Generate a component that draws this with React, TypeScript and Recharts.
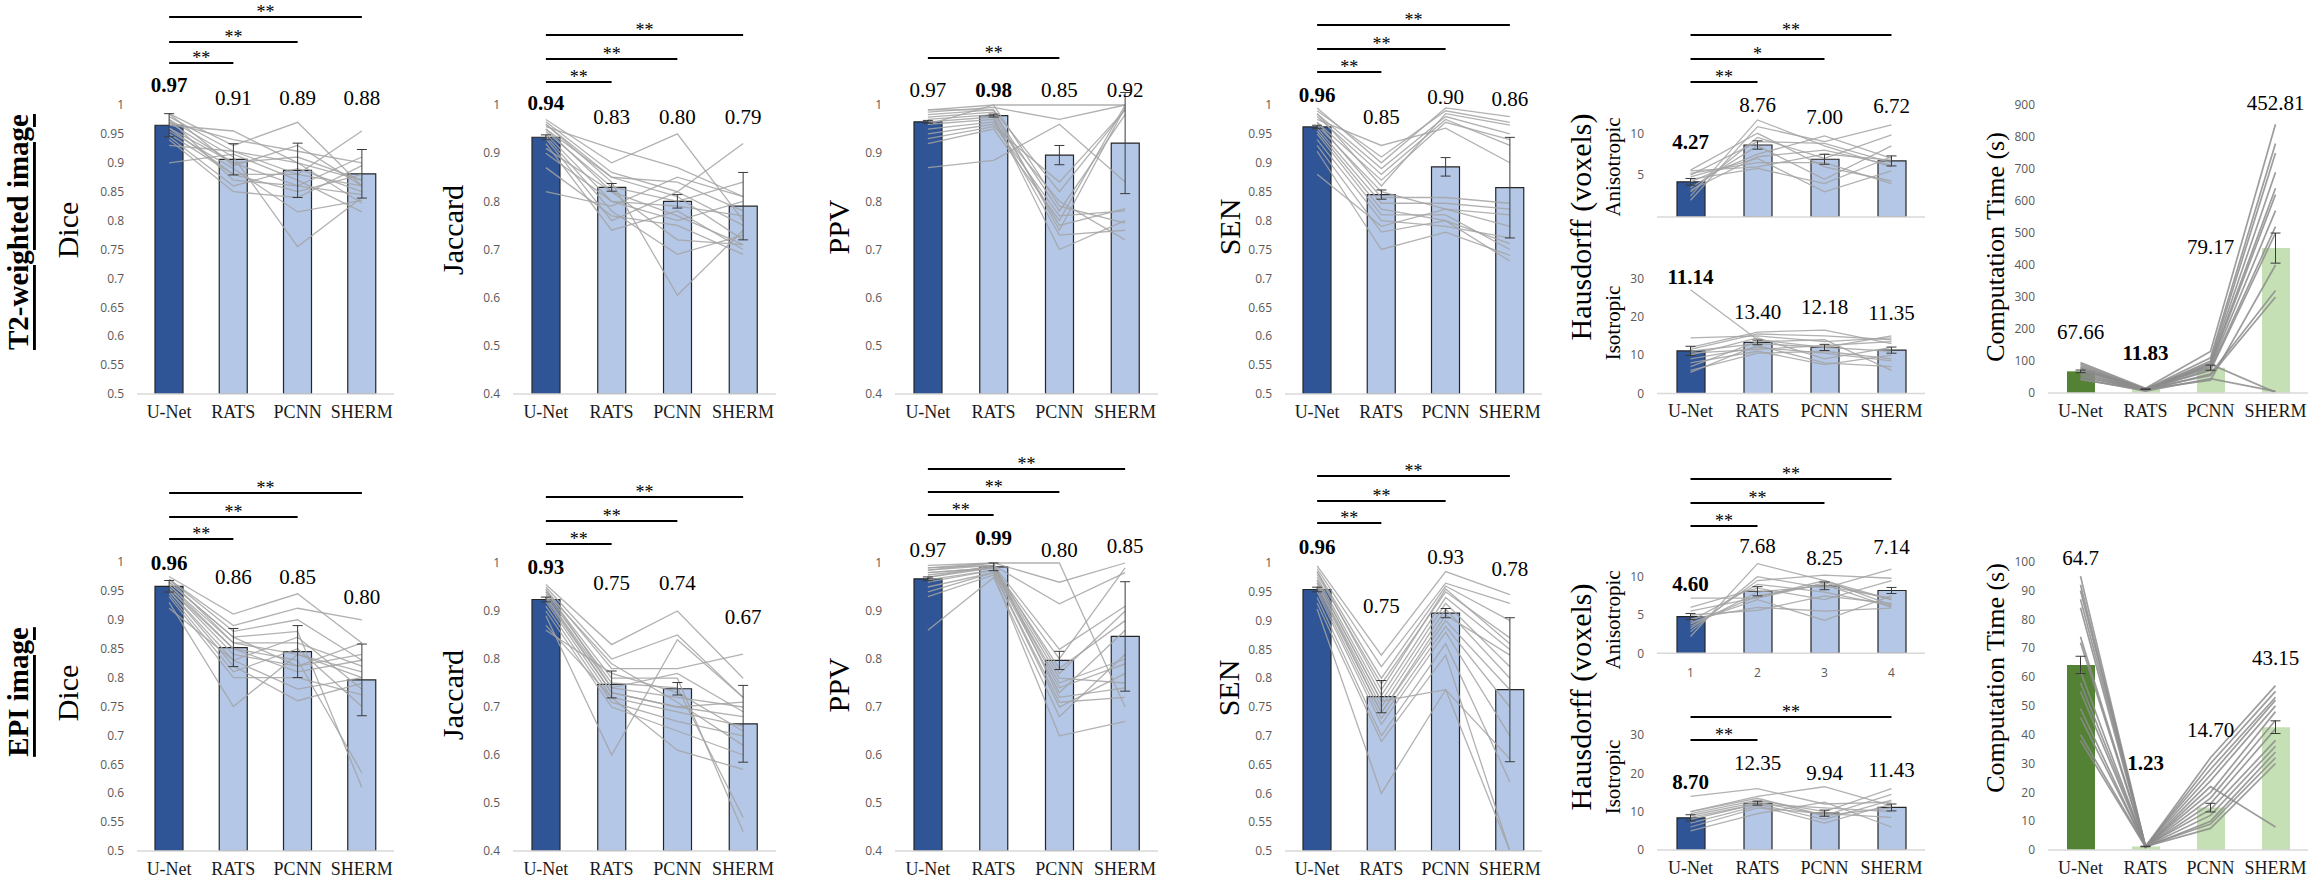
import {
  ComposedChart,
  Bar,
  Cell,
  Line,
  Scatter,
  ErrorBar,
  XAxis,
  YAxis,
  ReferenceLine,
  ReferenceDot,
} from "recharts";

const METHODS = ["U-Net", "RATS", "PCNN", "SHERM"];

const diceTicks = [0.5, 0.55, 0.6, 0.65, 0.7, 0.75, 0.8, 0.85, 0.9, 0.95, 1];
const jacTicks = [0.4, 0.5, 0.6, 0.7, 0.8, 0.9, 1];
const anisoTicks = [0, 5, 10];
const isoTicks = [0, 10, 20, 30];
const t2TimeTicks = [0, 100, 200, 300, 400, 500, 600, 700, 800, 900];
const epiTimeTicks = [0, 10, 20, 30, 40, 50, 60, 70, 80, 90, 100];

// ---------- T2-weighted image ----------
const t2DiceMean = [0.965, 0.906, 0.887, 0.881];
const t2DiceErr = [0.02, 0.027, 0.047, 0.042];
const t2DiceText = ["0.97", "0.91", "0.89", "0.88"];
const t2DiceSubjects = [
  [0.985, 0.93, 0.97, 0.86],
  [0.98, 0.92, 0.88, 0.955],
  [0.975, 0.91, 0.755, 0.84],
  [0.97, 0.94, 0.92, 0.9],
  [0.965, 0.955, 0.9, 0.87],
  [0.96, 0.9, 0.86, 0.91],
  [0.955, 0.89, 0.815, 0.835],
  [0.95, 0.88, 0.85, 0.88],
  [0.945, 0.86, 0.89, 0.85],
  [0.94, 0.85, 0.84, 0.895],
  [0.93, 0.92, 0.9, 0.83],
  [0.9, 0.915, 0.87, 0.815],
  [0.985, 0.895, 0.93, 0.86],
  [0.975, 0.87, 0.86, 0.845],
  [0.97, 0.9, 0.91, 0.87],
  [0.96, 0.88, 0.88, 0.86],
];

const t2JacMean = [0.933, 0.829, 0.8, 0.79];
const t2JacErr = [0.005, 0.008, 0.014, 0.07];
const t2JacText = ["0.94", "0.83", "0.80", "0.79"];
const t2JacSubjects = [
  [0.97, 0.88, 0.94, 0.76],
  [0.965, 0.86, 0.82, 0.92],
  [0.96, 0.84, 0.605, 0.74],
  [0.955, 0.91, 0.87, 0.81],
  [0.95, 0.85, 0.84, 0.78],
  [0.945, 0.83, 0.8, 0.84],
  [0.94, 0.8, 0.76, 0.8],
  [0.935, 0.78, 0.69, 0.73],
  [0.93, 0.76, 0.82, 0.75],
  [0.92, 0.74, 0.78, 0.7],
  [0.91, 0.82, 0.72, 0.71],
  [0.9, 0.8, 0.79, 0.77],
  [0.87, 0.77, 0.75, 0.69],
  [0.82, 0.79, 0.85, 0.81],
  [0.96, 0.85, 0.81, 0.72],
  [0.95, 0.82, 0.77, 0.71],
];

const t2PpvMean = [0.965, 0.978, 0.896, 0.921];
const t2PpvErr = [0.003, 0.003, 0.02, 0.105];
const t2PpvText = ["0.97", "0.98", "0.85", "0.92"];
const t2PpvSubjects = [
  [0.99, 1.0, 1.0, 1.0],
  [0.985, 0.995, 0.97, 1.0],
  [0.98, 0.99, 0.82, 0.99],
  [0.975, 0.985, 0.78, 0.98],
  [0.97, 0.98, 0.75, 0.785],
  [0.965, 0.975, 0.7, 0.76],
  [0.96, 0.97, 0.73, 0.74],
  [0.95, 0.965, 0.8, 0.72],
  [0.94, 0.96, 0.77, 0.78],
  [0.93, 0.955, 0.84, 0.99],
  [0.92, 0.95, 0.76, 1.0],
  [0.87, 0.885, 0.96, 0.84],
  [0.99, 0.99, 0.74, 0.995],
  [0.96, 1.0, 0.79, 0.755],
];

const t2SenMean = [0.962, 0.845, 0.893, 0.857];
const t2SenErr = [0.003, 0.008, 0.016, 0.087];
const t2SenText = ["0.96", "0.85", "0.90", "0.86"];
const t2SenSubjects = [
  [0.995, 0.9, 0.995, 0.98],
  [0.99, 0.91, 0.99, 0.97],
  [0.985, 0.89, 0.98, 0.95],
  [0.98, 0.88, 0.975, 0.93],
  [0.975, 0.93, 0.96, 0.9],
  [0.97, 0.87, 0.97, 0.94],
  [0.965, 0.85, 0.82, 0.79],
  [0.96, 0.83, 0.83, 0.82],
  [0.955, 0.82, 0.8, 0.76],
  [0.95, 0.81, 0.81, 0.75],
  [0.94, 0.8, 0.79, 0.77],
  [0.93, 0.78, 0.8, 0.73],
  [0.92, 0.75, 0.78, 0.74],
  [0.88, 0.79, 0.82, 0.81],
  [0.985, 0.86, 0.985, 0.965],
  [0.97, 0.84, 0.84, 0.83],
];

const t2AnisoMean = [4.2, 8.6, 6.9, 6.7];
const t2AnisoErr = [0.4, 0.5, 0.6, 0.6];
const t2AnisoText = ["4.27", "8.76", "7.00", "6.72"];
const t2AnisoSubjects = [
  [2.0, 10.8, 9.0, 11.0],
  [2.5, 11.6, 8.5, 6.0],
  [3.0, 9.5, 7.0, 9.8],
  [3.5, 8.5, 4.5, 8.5],
  [4.2, 7.5, 9.7, 7.0],
  [4.8, 7.0, 3.0, 5.5],
  [5.2, 6.5, 6.5, 4.0],
  [5.5, 6.0, 7.5, 6.8],
  [5.6, 10.0, 6.0, 4.3],
  [3.2, 7.2, 8.0, 6.2],
  [4.5, 5.8, 4.0, 7.2],
  [5.0, 9.0, 8.8, 6.5],
];

const t2IsoMean = [11.1, 13.3, 12.0, 11.3];
const t2IsoErr = [1.2, 0.6, 0.8, 0.8];
const t2IsoText = ["11.14", "13.40", "12.18", "11.35"];
const t2IsoSubjects = [
  [27.0, 14.0, 12.0, 11.0],
  [14.5, 15.0, 13.5, 14.5],
  [12.0, 16.0, 16.5, 13.0],
  [11.0, 13.0, 12.0, 15.0],
  [10.0, 14.5, 9.0, 12.0],
  [9.0, 12.0, 10.5, 8.5],
  [8.0, 11.0, 7.5, 10.0],
  [7.0, 13.5, 14.0, 6.0],
  [6.0, 10.5, 11.0, 9.0],
  [5.5, 12.5, 8.0, 7.0],
  [11.5, 15.5, 15.0, 14.0],
  [10.5, 11.5, 12.5, 13.5],
];

const t2TimeMean = [67.66, 11.83, 79.17, 452.81];
const t2TimeErr = [4, 1, 8, 47];
const t2TimeText = ["67.66", "11.83", "79.17", "452.81"];
const t2TimeSubjects = [
  [95, 15, 130, 840],
  [90, 12, 110, 780],
  [85, 10, 100, 750],
  [80, 12, 95, 690],
  [78, 8, 90, 640],
  [75, 10, 85, 620],
  [70, 14, 80, 570],
  [65, 9, 75, 520],
  [60, 11, 70, 500],
  [55, 7, 60, 320],
  [50, 13, 55, 300],
  [45, 6, 45, 5],
  [42, 10, 90, 2],
  [72, 12, 40, 400],
];

// ---------- EPI image ----------
const epiDiceMean = [0.958, 0.852, 0.845, 0.796];
const epiDiceErr = [0.01, 0.033, 0.045, 0.062];
const epiDiceText = ["0.96", "0.86", "0.85", "0.80"];
const epiDiceSubjects = [
  [0.975, 0.91, 0.945, 0.86],
  [0.97, 0.89, 0.92, 0.9],
  [0.97, 0.88, 0.9, 0.83],
  [0.965, 0.87, 0.88, 0.61],
  [0.96, 0.86, 0.86, 0.82],
  [0.96, 0.85, 0.83, 0.635],
  [0.955, 0.84, 0.82, 0.84],
  [0.95, 0.83, 0.78, 0.8],
  [0.95, 0.82, 0.76, 0.79],
  [0.945, 0.81, 0.85, 0.75],
  [0.94, 0.8, 0.8, 0.77],
  [0.93, 0.75, 0.84, 0.81],
  [0.92, 0.83, 0.87, 0.78],
  [0.965, 0.87, 0.82, 0.86],
  [0.97, 0.86, 0.84, 0.8],
  [0.955, 0.85, 0.81, 0.83],
];

const epiJacMean = [0.924, 0.747, 0.738, 0.665];
const epiJacErr = [0.005, 0.028, 0.013, 0.08];
const epiJacText = ["0.93", "0.75", "0.74", "0.67"];
const epiJacSubjects = [
  [0.955, 0.83, 0.9, 0.76],
  [0.95, 0.8, 0.85, 0.72],
  [0.945, 0.78, 0.78, 0.81],
  [0.94, 0.76, 0.76, 0.44],
  [0.935, 0.75, 0.74, 0.47],
  [0.93, 0.74, 0.72, 0.7],
  [0.925, 0.73, 0.7, 0.68],
  [0.92, 0.72, 0.69, 0.66],
  [0.91, 0.71, 0.67, 0.64],
  [0.9, 0.7, 0.65, 0.6],
  [0.89, 0.6, 0.84, 0.72],
  [0.87, 0.72, 0.61, 0.57],
  [0.86, 0.77, 0.73, 0.65],
  [0.94, 0.79, 0.71, 0.62],
  [0.945, 0.74, 0.77, 0.69],
  [0.93, 0.73, 0.7, 0.71],
];

const epiPpvMean = [0.967, 0.992, 0.797, 0.847];
const epiPpvErr = [0.004, 0.008, 0.019, 0.114];
const epiPpvText = ["0.97", "0.99", "0.80", "0.85"];
const epiPpvSubjects = [
  [0.995, 1.0, 1.0, 0.7],
  [0.99, 1.0, 0.96, 1.0],
  [0.99, 0.995, 0.915, 0.98],
  [0.985, 0.995, 0.82, 0.91],
  [0.98, 0.99, 0.8, 0.99],
  [0.975, 0.99, 0.78, 0.88],
  [0.97, 0.99, 0.76, 0.75],
  [0.965, 0.985, 0.75, 0.8],
  [0.96, 0.985, 0.73, 0.86],
  [0.95, 0.98, 0.71, 0.72],
  [0.94, 0.98, 0.7, 0.77],
  [0.93, 0.975, 0.64, 0.67],
  [0.86, 0.97, 0.68, 0.81],
  [0.97, 0.995, 0.77, 0.9],
  [0.985, 1.0, 0.72, 0.74],
  [0.98, 0.99, 0.74, 0.79],
];

const epiSenMean = [0.954, 0.768, 0.913, 0.78];
const epiSenErr = [0.004, 0.028, 0.008, 0.125];
const epiSenText = ["0.96", "0.75", "0.93", "0.78"];
const epiSenSubjects = [
  [0.995, 0.84, 0.985, 0.945],
  [0.99, 0.82, 0.965, 0.93],
  [0.985, 0.8, 0.96, 0.9],
  [0.98, 0.79, 0.95, 0.87],
  [0.975, 0.77, 0.94, 0.85],
  [0.97, 0.76, 0.93, 0.82],
  [0.965, 0.75, 0.92, 0.8],
  [0.96, 0.74, 0.9, 0.78],
  [0.955, 0.73, 0.89, 0.75],
  [0.95, 0.72, 0.88, 0.7],
  [0.94, 0.7, 0.86, 0.62],
  [0.93, 0.69, 0.84, 0.5],
  [0.92, 0.6, 0.78, 0.66],
  [0.97, 0.76, 0.78, 0.5],
  [0.985, 0.78, 0.955, 0.86],
  [0.965, 0.74, 0.91, 0.84],
];

const epiAnisoMean = [4.8, 8.1, 8.8, 8.2];
const epiAnisoErr = [0.4, 0.6, 0.5, 0.4];
const epiAnisoText = ["4.60", "7.68", "8.25", "7.14"];
const epiAnisoSubjects = [
  [2.2, 11.7, 9.5, 7.0],
  [2.8, 10.0, 8.5, 11.0],
  [3.2, 9.5, 10.2, 9.8],
  [3.5, 8.0, 8.8, 7.2],
  [3.8, 7.5, 9.0, 6.0],
  [4.0, 7.0, 4.3, 7.5],
  [4.5, 6.0, 5.5, 5.9],
  [5.0, 5.6, 7.5, 6.5],
  [5.5, 7.3, 9.5, 6.3],
  [6.0, 8.5, 7.0, 9.5],
  [7.2, 7.2, 9.2, 7.0],
  [4.2, 9.0, 8.0, 6.2],
];

const epiIsoMean = [8.4, 12.2, 9.6, 11.1];
const epiIsoErr = [0.8, 0.5, 0.8, 0.9];
const epiIsoText = ["8.70", "12.35", "9.94", "11.43"];
const epiIsoSubjects = [
  [14.0, 16.0, 12.0, 12.5],
  [10.0, 14.0, 16.5, 11.5],
  [9.5, 13.0, 10.0, 16.0],
  [9.0, 12.5, 9.0, 14.5],
  [8.0, 12.0, 8.0, 13.0],
  [7.0, 11.5, 7.0, 12.0],
  [6.0, 11.0, 9.5, 8.5],
  [5.0, 9.5, 12.5, 6.0],
  [10.0, 13.5, 9.0, 11.0],
  [8.5, 12.0, 11.0, 10.0],
];

const epiTimeMean = [64.2, 1.23, 14.7, 42.6];
const epiTimeErr = [3, 0.1, 1.5, 2.2];
const epiTimeText = ["64.7", "1.23", "14.70", "43.15"];
const epiTimeSubjects = [
  [95, 1.2, 32, 57],
  [92, 1.1, 30, 55],
  [90, 1.3, 28, 53],
  [87, 1.2, 26, 52],
  [84, 1.0, 24, 50],
  [74, 1.3, 20, 48],
  [72, 1.2, 18, 45],
  [62, 1.1, 16, 42],
  [58, 1.4, 14, 38],
  [55, 1.2, 12, 36],
  [49, 1.0, 10, 34],
  [46, 1.3, 9, 32],
  [40, 1.2, 7.5, 30],
  [38, 1.1, 22, 8],
];

const SERIF = "'Liberation Serif', 'Times New Roman', serif";
const SANS = "'Open Sans', 'Noto Sans', sans-serif";
const Y_W = 50;

type Sig = { to: number; y: number; stars?: string };
type PanelDef = {
  mean: number[];
  err: number[];
  text: string[];
  best: number;
  subjects: number[][];
  green?: boolean;
  // layout, page pixels
  x0: number;
  x1: number;
  top: number;
  axisY: number;
  hiY: number;
  lo: number;
  hi: number;
  ticks: number[];
  labelY: number[];
  sig: Sig[];
  xTicks: "methods" | "numbers" | "none";
};

const PANELS: PanelDef[] = [
  // T2 row
  { mean: t2DiceMean, err: t2DiceErr, text: t2DiceText, best: 0, subjects: t2DiceSubjects,
    x0: 137, x1: 394, top: 0, axisY: 394, hiY: 105, lo: 0.5, hi: 1, ticks: diceTicks,
    labelY: [85, 98, 98, 98], sig: [{ to: 1, y: 63 }, { to: 2, y: 42 }, { to: 3, y: 17 }], xTicks: "methods" },
  { mean: t2JacMean, err: t2JacErr, text: t2JacText, best: 0, subjects: t2JacSubjects,
    x0: 513, x1: 776, top: 0, axisY: 394, hiY: 105, lo: 0.4, hi: 1, ticks: jacTicks,
    labelY: [103, 117, 117, 117], sig: [{ to: 1, y: 82 }, { to: 2, y: 59 }, { to: 3, y: 35 }], xTicks: "methods" },
  { mean: t2PpvMean, err: t2PpvErr, text: t2PpvText, best: 1, subjects: t2PpvSubjects,
    x0: 895, x1: 1158, top: 0, axisY: 394, hiY: 105, lo: 0.4, hi: 1, ticks: jacTicks,
    labelY: [90, 90, 90, 90], sig: [{ to: 2, y: 58 }], xTicks: "methods" },
  { mean: t2SenMean, err: t2SenErr, text: t2SenText, best: 0, subjects: t2SenSubjects,
    x0: 1285, x1: 1542, top: 0, axisY: 394, hiY: 105, lo: 0.5, hi: 1, ticks: diceTicks,
    labelY: [95, 117, 97, 99], sig: [{ to: 1, y: 72 }, { to: 2, y: 49 }, { to: 3, y: 25 }], xTicks: "methods" },
  { mean: t2AnisoMean, err: t2AnisoErr, text: t2AnisoText, best: 0, subjects: t2AnisoSubjects,
    x0: 1657, x1: 1925, top: 0, axisY: 217, hiY: 133.3, lo: 0, hi: 10, ticks: anisoTicks,
    labelY: [142, 105, 117, 106], sig: [{ to: 1, y: 82 }, { to: 2, y: 59, stars: "*" }, { to: 3, y: 35 }], xTicks: "none" },
  { mean: t2IsoMean, err: t2IsoErr, text: t2IsoText, best: 0, subjects: t2IsoSubjects,
    x0: 1657, x1: 1925, top: 240, axisY: 393.5, hiY: 278.3, lo: 0, hi: 30, ticks: isoTicks,
    labelY: [277, 312, 307, 313], sig: [], xTicks: "methods" },
  { mean: t2TimeMean, err: t2TimeErr, text: t2TimeText, best: 1, subjects: t2TimeSubjects, green: true,
    x0: 2048, x1: 2308, top: 0, axisY: 393, hiY: 105, lo: 0, hi: 900, ticks: t2TimeTicks,
    labelY: [332, 353, 247, 103], sig: [], xTicks: "methods" },
  // EPI row
  { mean: epiDiceMean, err: epiDiceErr, text: epiDiceText, best: 0, subjects: epiDiceSubjects,
    x0: 137, x1: 394, top: 445, axisY: 851, hiY: 562, lo: 0.5, hi: 1, ticks: diceTicks,
    labelY: [563, 577, 577, 597], sig: [{ to: 1, y: 539 }, { to: 2, y: 517 }, { to: 3, y: 493 }], xTicks: "methods" },
  { mean: epiJacMean, err: epiJacErr, text: epiJacText, best: 0, subjects: epiJacSubjects,
    x0: 513, x1: 776, top: 445, axisY: 851, hiY: 563, lo: 0.4, hi: 1, ticks: jacTicks,
    labelY: [567, 583, 583, 617], sig: [{ to: 1, y: 544 }, { to: 2, y: 521 }, { to: 3, y: 497 }], xTicks: "methods" },
  { mean: epiPpvMean, err: epiPpvErr, text: epiPpvText, best: 1, subjects: epiPpvSubjects,
    x0: 895, x1: 1158, top: 445, axisY: 851, hiY: 563, lo: 0.4, hi: 1, ticks: jacTicks,
    labelY: [550, 538, 550, 546], sig: [{ to: 1, y: 515 }, { to: 2, y: 492 }, { to: 3, y: 469 }], xTicks: "methods" },
  { mean: epiSenMean, err: epiSenErr, text: epiSenText, best: 0, subjects: epiSenSubjects,
    x0: 1285, x1: 1542, top: 445, axisY: 851, hiY: 563, lo: 0.5, hi: 1, ticks: diceTicks,
    labelY: [547, 606, 557, 569], sig: [{ to: 1, y: 523 }, { to: 2, y: 501 }, { to: 3, y: 476 }], xTicks: "methods" },
  { mean: epiAnisoMean, err: epiAnisoErr, text: epiAnisoText, best: 0, subjects: epiAnisoSubjects,
    x0: 1657, x1: 1925, top: 445, axisY: 653.3, hiY: 576.7, lo: 0, hi: 10, ticks: anisoTicks,
    labelY: [584, 546, 558, 547], sig: [{ to: 1, y: 526 }, { to: 2, y: 503 }, { to: 3, y: 479 }], xTicks: "numbers" },
  { mean: epiIsoMean, err: epiIsoErr, text: epiIsoText, best: 0, subjects: epiIsoSubjects,
    x0: 1657, x1: 1925, top: 700, axisY: 850, hiY: 735, lo: 0, hi: 30, ticks: isoTicks,
    labelY: [782, 763, 773, 770], sig: [{ to: 1, y: 740 }, { to: 3, y: 717 }], xTicks: "methods" },
  { mean: epiTimeMean, err: epiTimeErr, text: epiTimeText, best: 1, subjects: epiTimeSubjects, green: true,
    x0: 2048, x1: 2308, top: 445, axisY: 850, hiY: 561.7, lo: 0, hi: 100, ticks: epiTimeTicks,
    labelY: [558, 763, 730, 658], sig: [], xTicks: "methods" },
];

// rotated titles: [text, x, y, size, bold/underlined]
const TITLES: [string, number, number, number, boolean][] = [
  ["T2-weighted image", 18, 232, 29, true],
  ["EPI image", 18, 692, 29, true],
  ["Dice", 67, 230, 30, false],
  ["Dice", 67, 693, 30, false],
  ["Jaccard", 452, 230, 30, false],
  ["Jaccard", 452, 695, 30, false],
  ["PPV", 838, 227, 30, false],
  ["PPV", 838, 685, 30, false],
  ["SEN", 1229, 227, 30, false],
  ["SEN", 1228, 688, 30, false],
  ["Hausdorff (voxels)", 1580, 227, 30, false],
  ["Hausdorff (voxels)", 1580, 697, 30, false],
  ["Anisotropic", 1613, 167, 21, false],
  ["Isotropic", 1613, 323, 21, false],
  ["Anisotropic", 1613, 620, 21, false],
  ["Isotropic", 1613, 777, 21, false],
  ["Computation Time (s)", 1995, 247, 26, false],
  ["Computation Time (s)", 1995, 678, 26, false],
];

// label renderers for reference marks (viewBox comes from the library)
function starsLabel(stars: string) {
  return (props: any) => {
    const vb = props && props.viewBox;
    if (!vb) return null;
    return (
      <text x={vb.x + (vb.width || 0) / 2} y={vb.y + 1} textAnchor="middle" fontSize={18} fontFamily={SERIF} fill="#000">
        {stars}
      </text>
    );
  };
}

function valueLabel(text: string, bold: boolean) {
  return (props: any) => {
    const vb = props && props.viewBox;
    if (!vb) return null;
    return (
      <text
        x={vb.x + (vb.width || 0) / 2}
        y={vb.y + (vb.height || 0) / 2}
        textAnchor="middle"
        dominantBaseline="central"
        fontSize={21}
        fontFamily={SERIF}
        fontWeight={bold ? 700 : 400}
        fill="#000"
      >
        {text}
      </text>
    );
  };
}

function Panel({ p }: { p: PanelDef }) {
  const pxPerUnit = (p.axisY - p.hiY) / (p.hi - p.lo);
  const val = (py: number) => p.lo + (p.axisY - py) / pxPerUnit;
  const xH = p.xTicks === "none" ? 2 : p.xTicks === "numbers" ? 28 : 30;
  const width = Y_W + p.x1 - p.x0;
  const height = p.axisY - p.top + xH;

  const data = METHODS.map((name, i) => {
    const row: Record<string, number | string> = { name, mean: p.mean[i], err: p.err[i] };
    p.subjects.forEach((s, j) => {
      row[`s${j}`] = s[i];
    });
    return row;
  });

  const mainFill = p.green ? "#548235" : "#2f5597";
  const otherFill = p.green ? "#c5e0b4" : "#b4c7e7";
  const lineColor = p.green ? "#8c8c8c" : "#a3a3a3";

  return (
    <div style={{ position: "absolute", left: p.x0 - Y_W, top: p.top }}>
      <ComposedChart width={width} height={height} data={data} margin={{ top: 0, right: 0, bottom: 0, left: 0 }}>
        <XAxis
          dataKey="name"
          height={xH}
          interval={0}
          axisLine={{ stroke: "#d9d9d9", strokeWidth: 1.5 }}
          tickLine={false}
          tickMargin={p.xTicks === "numbers" ? 9 : 5}
          tick={
            p.xTicks === "none"
              ? false
              : p.xTicks === "numbers"
              ? { fontSize: 12, fill: "#595959", fontFamily: SANS }
              : { fontSize: 18, fill: "#1a1a1a", fontFamily: SERIF }
          }
          tickFormatter={p.xTicks === "numbers" ? (_v: string, i: number) => String(i + 1) : undefined}
        />
        <YAxis
          type="number"
          width={Y_W}
          domain={[p.lo, val(p.top)]}
          ticks={p.ticks}
          allowDataOverflow
          axisLine={false}
          tickLine={false}
          tickMargin={7}
          tick={{ fontSize: 12, fill: "#595959", fontFamily: SANS }}
        />
        <Bar
          dataKey="mean"
          barSize={28}
          stroke={p.green ? "none" : "#262626"}
          strokeWidth={1.2}
          isAnimationActive={false}
        >
          {METHODS.map((m, i) => (
            <Cell key={m} fill={i === 0 ? mainFill : otherFill} />
          ))}
        </Bar>
        {p.subjects.map((_, j) => (
          <Line
            key={j}
            dataKey={`s${j}`}
            stroke={lineColor}
            strokeWidth={p.green ? 1.7 : 1.3}
            strokeOpacity={0.85}
            dot={false}
            activeDot={false}
            legendType="none"
            isAnimationActive={false}
          />
        ))}
        <Scatter dataKey="mean" shape={() => <g />} legendType="none" isAnimationActive={false}>
          <ErrorBar dataKey="err" direction="y" width={5} stroke="#3a3a3a" strokeWidth={1} />
        </Scatter>
        {p.sig.map((s, k) => (
          <ReferenceLine
            key={`sig${k}`}
            segment={[
              { x: METHODS[0], y: val(s.y) },
              { x: METHODS[s.to], y: val(s.y) },
            ]}
            stroke="#000"
            strokeWidth={2}
            ifOverflow="visible"
            label={starsLabel(s.stars ?? "**")}
          />
        ))}
        {p.text.map((t, i) => (
          <ReferenceDot
            key={`lab${i}`}
            x={METHODS[i]}
            y={val(p.labelY[i])}
            r={0}
            fill="none"
            stroke="none"
            ifOverflow="visible"
            label={valueLabel(t, i === p.best)}
          />
        ))}
      </ComposedChart>
    </div>
  );
}

export default function App() {
  return (
    <div
      style={{
        position: "absolute",
        left: 0,
        top: 0,
        width: 2323,
        height: 890,
        background: "#fff",
        overflow: "hidden",
      }}
    >
      {PANELS.map((p, i) => (
        <Panel key={i} p={p} />
      ))}
      <svg
        width={2323}
        height={890}
        style={{ position: "absolute", left: 0, top: 0, pointerEvents: "none" }}
      >
        {TITLES.map(([t, x, y, size, strong], i) => (
          <text
            key={i}
            transform={`translate(${x},${y}) rotate(-90)`}
            textAnchor="middle"
            dominantBaseline="central"
            fontFamily={SERIF}
            fontSize={size}
            fontWeight={strong ? 700 : 400}
            fill="#000"
            style={{ textDecoration: strong ? "underline" : "none" }}
          >
            {t}
          </text>
        ))}
      </svg>
    </div>
  );
}
